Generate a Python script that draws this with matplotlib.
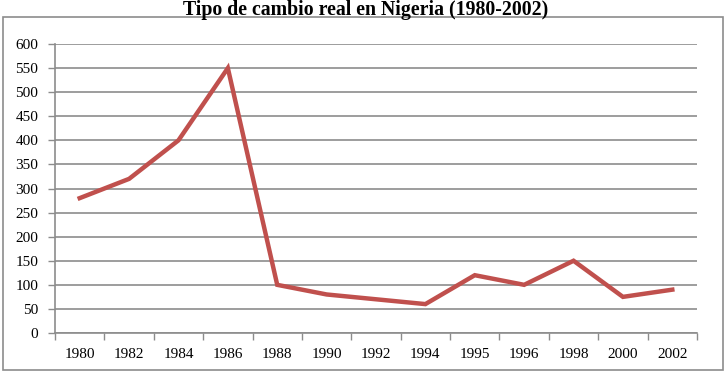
import numpy as np
import matplotlib.pyplot as plt
from matplotlib.patches import Rectangle

years = ["1980", "1982", "1984", "1986", "1988", "1990", "1992",
         "1994", "1995", "1996", "1998", "2000", "2002"]
tipo_cambio = [280, 320, 400, 550, 100, 80, 70, 60, 120, 100, 150, 75, 90]

plt.rcParams['font.family'] = ['Liberation Serif', 'DejaVu Serif']

fig = plt.figure(figsize=(7.26, 3.72), dpi=100)
fig.patches.append(Rectangle((3 / 726, 2 / 372), 720 / 726, 353 / 372,
                             transform=fig.transFigure, fill=False,
                             edgecolor='#8c8c8c', linewidth=1.2))
ax = fig.add_axes([55 / 726, 39 / 372, 642 / 726, 289 / 372])

x = np.arange(len(years))
ax.plot(x, tipo_cambio, color='#C0504D', linewidth=3.2, solid_joinstyle='miter', zorder=3)

ax.set_xlim(-0.5, len(years) - 0.5)
ax.set_ylim(0, 600)
ax.set_yticks(range(0, 601, 50))
ax.set_xticks(x)
ax.set_xticklabels(years)
ax.set_xticks(np.arange(-0.5, len(years)), minor=True)
ax.tick_params(axis='x', which='major', length=0, pad=11, labelsize=11)
ax.tick_params(axis='x', which='minor', length=5, color='#8c8c8c', width=1)
ax.tick_params(axis='y', length=5, color='#8c8c8c', width=1, labelsize=11, pad=7)

ax.grid(axis='y', color='#8c8c8c', linewidth=1.2)
ax.set_axisbelow(True)
for s in ['top', 'right']:
    ax.spines[s].set_visible(False)
for s in ['left', 'bottom']:
    ax.spines[s].set_color('#8c8c8c')
    ax.spines[s].set_linewidth(1.2)

fig.text(366 / 726, 1 - 10 / 372, "Tipo de cambio real en Nigeria (1980-2002)",
         ha='center', va='center', fontsize=14.3, fontweight='bold')

fig.savefig('out.png', dpi=100)
